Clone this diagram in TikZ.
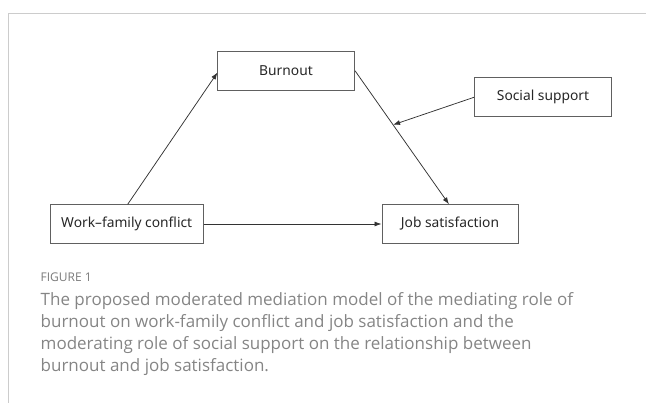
\documentclass[tikz,border=0pt]{standalone}
\usepackage{fontspec}
\setmainfont{Noto Sans}
\newfontfamily\capfont{Open Sans}
\usetikzlibrary{arrows.meta}
\definecolor{capgrey}{HTML}{858585}
\definecolor{figgrey}{HTML}{7A7A7A}
\definecolor{framegrey}{HTML}{CCCCCC}
\definecolor{boxline}{HTML}{606060}
\definecolor{arrline}{HTML}{333333}
\tikzset{
  varbox/.style={draw=boxline, line width=1pt, rectangle, inner sep=0pt, font=\fontsize{13.8}{16}\selectfont, text=black!85},
  path/.style={draw=arrline, line width=0.75pt, -{Latex[length=7pt,width=5pt]}},
}
\begin{document}
\begin{tikzpicture}[x=1pt,y=-1pt]
\useasboundingbox (0,0) rectangle (646,403);
\draw[framegrey, line width=1pt] (646,14) -- (8.7,14) -- (8.7,403);
\node[varbox, minimum width=137pt, minimum height=39pt] (bo) at (286,70.7) {Burnout};
\node[varbox, minimum width=137pt, minimum height=39pt] (ss) at (543,97.3) {Social support};
\node[varbox, minimum width=152.7pt, minimum height=39.4pt] (wf) at (126.7,224) {Work–family conflict};
\node[varbox, minimum width=136pt, minimum height=39.4pt] (js) at (450,224) {Job satisfaction};
\coordinate (wft) at (127.7,204.3);
\coordinate (bol) at (217.5,72.5);
\coordinate (jst) at (449,204.3);
\draw[path] (wft) -- (bol);
\draw[path] (bo.east) -- (jst) coordinate[pos=0.405] (mid);
\draw[path] (ss.west) -- (mid);
\draw[path] (wf.east) -- (js.west);
\node[anchor=base west, inner sep=0pt, text=figgrey, font=\capfont\fontsize{12}{14}\selectfont] (fig) at (40.5,282) {FIGURE 1};
\node[anchor=base west, inner sep=0pt, text=capgrey, align=left, font=\capfont\fontsize{17}{22.2}\selectfont] (cap) at (40.5,371.7) {The proposed moderated mediation model of the mediating role of\\burnout on work-family conflict and job satisfaction and the\\moderating role of social support on the relationship between\\burnout and job satisfaction.};
\end{tikzpicture}
\end{document}
